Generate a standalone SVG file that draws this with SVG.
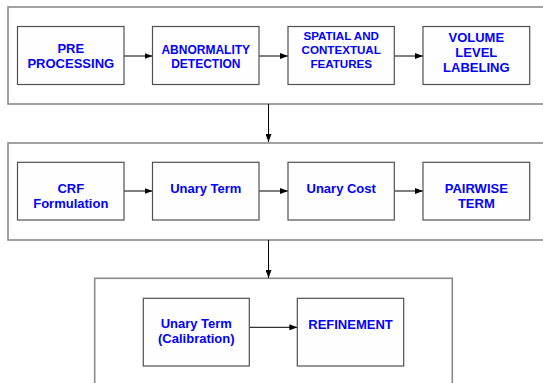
<svg xmlns="http://www.w3.org/2000/svg" width="543" height="383" viewBox="0 0 543 383">
<style>
.outer{fill:none;stroke:#8a8a8a;stroke-width:1.6}
.box{fill:#fefefe;stroke:#505050;stroke-width:1.2}
.t{font-family:"Liberation Sans",Arial,sans-serif;font-weight:bold;font-size:13px;fill:#0000ff;text-anchor:middle}
.s{font-size:12px}
.xs{font-size:11.6px}
.c{stroke:#000;stroke-width:1;fill:none;marker-end:url(#ah)}
</style>
<defs>
<marker id="ah" markerWidth="8" markerHeight="6" refX="8" refY="3" orient="auto" markerUnits="userSpaceOnUse">
<path d="M0,0 L8,3 L0,6 Z" fill="#000"/>
</marker>
</defs>
<rect fill="#fff" width="543" height="383"/>
<g id="frame1"><rect class="outer" x="8" y="7" width="545" height="97"/></g>
<g id="frame2"><rect class="outer" x="8" y="143" width="545" height="97"/></g>
<g id="frame3"><rect class="outer" x="94.7" y="278.3" width="357.6" height="120"/></g>
<g id="connectors">
<line class="c" x1="124" y1="56" x2="152.5" y2="56"/>
<line class="c" x1="259" y1="56" x2="288" y2="56"/>
<line class="c" x1="394.3" y1="56" x2="423" y2="56"/>
<line class="c" x1="268.5" y1="104" x2="268.5" y2="142"/>
<line class="c" x1="124" y1="191" x2="152.5" y2="191"/>
<line class="c" x1="259" y1="191" x2="288" y2="191"/>
<line class="c" x1="394.3" y1="191" x2="423" y2="191"/>
<line class="c" x1="268.5" y1="240" x2="268.5" y2="278"/>
<line class="c" x1="249.3" y1="327.3" x2="297.3" y2="327.3"/>
</g>
<g id="pre"><rect class="box" x="17.5" y="26.5" width="106.5" height="58"/>
<text class="t" x="70.8" y="52.5">PRE</text><text class="t" x="70.8" y="67.5">PROCESSING</text></g>
<g id="abnormality"><rect class="box" x="152.5" y="26.5" width="106.5" height="58"/>
<text class="t s" x="205.8" y="54.3">ABNORMALITY</text><text class="t s" x="205.8" y="68.3">DETECTION</text></g>
<g id="spatial"><rect class="box" x="288" y="26.5" width="106.3" height="58"/>
<text class="t xs" x="341.2" y="40">SPATIAL AND</text><text class="t xs" x="341.2" y="54">CONTEXTUAL</text><text class="t xs" x="341.2" y="67.8">FEATURES</text></g>
<g id="volume"><rect class="box" x="423" y="26.5" width="106.7" height="58"/>
<text class="t" x="476.3" y="41.8">VOLUME</text><text class="t" x="476.3" y="57">LEVEL</text><text class="t" x="476.3" y="71.8">LABELING</text></g>
<g id="crf"><rect class="box" x="17.5" y="162.3" width="106.5" height="57.7"/>
<text class="t" x="70.8" y="193.3">CRF</text><text class="t" x="70.8" y="208">Formulation</text></g>
<g id="unary"><rect class="box" x="152.5" y="162.3" width="106.5" height="57.7"/>
<text class="t" x="205.8" y="193">Unary Term</text></g>
<g id="unarycost"><rect class="box" x="288" y="162.3" width="106.3" height="57.7"/>
<text class="t" x="341.2" y="193">Unary Cost</text></g>
<g id="pairwise"><rect class="box" x="423" y="162.3" width="106.7" height="57.7"/>
<text class="t" x="476.3" y="193.3">PAIRWISE</text><text class="t" x="476.3" y="207.8">TERM</text></g>
<g id="calib"><rect class="box" x="143.3" y="298.3" width="106" height="67.7"/>
<text class="t" x="196.3" y="328">Unary Term</text><text class="t" x="196.3" y="342.5">(Calibration)</text></g>
<g id="refinement"><rect class="box" x="297.3" y="298.3" width="106.4" height="67.7"/>
<text class="t" x="350.5" y="328.7">REFINEMENT</text></g>
</svg>
